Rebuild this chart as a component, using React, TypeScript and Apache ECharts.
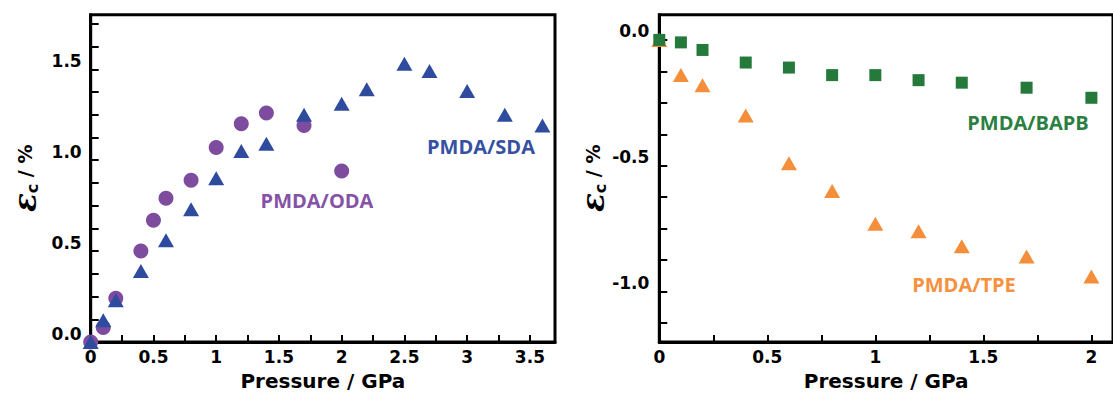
import React, { useEffect, useRef } from "react";
import * as echarts from "echarts";

// ---- Left panel data ----
const ODA_X = [0, 0.1, 0.2, 0.4, 0.5, 0.6, 0.8, 1.0, 1.2, 1.4, 1.7, 2.0];
const ODA_Y = [0.0, 0.08, 0.24, 0.5, 0.67, 0.79, 0.89, 1.07, 1.2, 1.26, 1.19, 0.94];
const SDA_X = [0, 0.1, 0.2, 0.4, 0.6, 0.8, 1.0, 1.2, 1.4, 1.7, 2.0, 2.2, 2.5, 2.7, 3.0, 3.3, 3.6];
const SDA_Y = [0.0, 0.12, 0.23, 0.39, 0.56, 0.73, 0.9, 1.05, 1.09, 1.25, 1.31, 1.39, 1.53, 1.49, 1.38, 1.25, 1.19];

// ---- Right panel data ----
const BAPB_X = [0, 0.1, 0.2, 0.4, 0.6, 0.8, 1.0, 1.2, 1.4, 1.7, 2.0];
const BAPB_Y = [0.0, -0.01, -0.04, -0.09, -0.11, -0.14, -0.14, -0.16, -0.17, -0.19, -0.23];
const TPE_X = [0, 0.1, 0.2, 0.4, 0.6, 0.8, 1.0, 1.2, 1.4, 1.7, 2.0];
const TPE_Y = [0.0, -0.14, -0.18, -0.3, -0.49, -0.6, -0.73, -0.76, -0.82, -0.86, -0.94];

// ---- Axis ticks / labels ----
const LEFT_X_LABELS = [0, 0.5, 1, 1.5, 2, 2.5, 3, 3.5];
const LEFT_X_TICKS = [0.25, 0.5, 0.75, 1, 1.25, 1.5, 1.75, 2, 2.25, 2.5, 2.75, 3, 3.25, 3.5];
const LEFT_Y_LABELS = [0, 0.5, 1.0, 1.5];
const LEFT_Y_TICKS = [0.125, 0.25, 0.375, 0.5, 0.625, 0.75, 0.875, 1.0, 1.125, 1.25, 1.375, 1.5, 1.625, 1.75];
const RIGHT_X_LABELS = [0, 0.5, 1, 1.5, 2];
const RIGHT_X_TICKS = [0.25, 0.5, 0.75, 1, 1.25, 1.5, 1.75, 2];
const RIGHT_Y_LABELS = [0, -0.5, -1.0];
const RIGHT_Y_TICKS = [0, -0.125, -0.25, -0.375, -0.5, -0.625, -0.75, -0.875, -1.0, -1.125];

const X_TITLE = "Pressure / GPa";
const SERIES_NAMES = ["PMDA/ODA", "PMDA/SDA", "PMDA/BAPB", "PMDA/TPE"];

const C_ODA = "#7E4C9F";
const C_SDA = "#2E4B9E";
const C_BAPB = "#257A3B";
const C_TPE = "#F48E3A";

const zip = (xs: number[], ys: number[]) => xs.map((x, i) => [x, ys[i]]);

const tickFont = {
  fontFamily: "DejaVu Sans",
  fontWeight: "bold" as const,
  fontSize: 17,
  color: "#000",
};

const yName = "{e|ε}{c|c}{t| / %}";
const yNameStyle = {
  color: "#000",
  rich: {
    e: { fontFamily: "DejaVu Serif", fontStyle: "italic", fontWeight: "bold", fontSize: 31, color: "#000" },
    c: { fontFamily: "DejaVu Sans", fontWeight: "bold", fontSize: 16, color: "#000", verticalAlign: "bottom", padding: [10, 0, 0, 0] },
    t: { fontFamily: "DejaVu Sans", fontWeight: "bold", fontSize: 19, color: "#000" },
  },
};

function xAxisCfg(gridIndex: number, max: number, labels: number[], ticks: number[], labelMargin: number) {
  return {
    type: "value",
    gridIndex,
    min: 0,
    max,
    name: X_TITLE,
    nameLocation: "middle",
    nameGap: 29,
    nameTextStyle: { fontFamily: "DejaVu Sans", fontWeight: "bold", fontSize: 20, color: "#000" },
    axisLine: { show: true, onZero: false, lineStyle: { color: "#000", width: 3 } },
    axisTick: { show: true, inside: true, length: 7, lineStyle: { color: "#000", width: 2 }, customValues: ticks },
    axisLabel: { ...tickFont, margin: labelMargin, customValues: labels, formatter: (v: number) => String(v) },
    splitLine: { show: false },
  };
}

function yAxisCfg(gridIndex: number, min: number, max: number, labels: number[], ticks: number[], labelMargin: number) {
  return {
    type: "value",
    gridIndex,
    min,
    max,
    name: yName,
    nameLocation: "middle",
    nameRotate: 90,
    nameGap: 50,
    nameTextStyle: yNameStyle,
    axisLine: { show: true, onZero: false, lineStyle: { color: "#000", width: 3 } },
    axisTick: { show: true, inside: true, length: 8, lineStyle: { color: "#000", width: 2 }, customValues: ticks },
    axisLabel: {
      ...tickFont,
      margin: labelMargin,
      verticalAlign: "bottom",
      lineHeight: 17,
      customValues: labels,
      formatter: (v: number) => v.toFixed(1),
    },
    splitLine: { show: false },
  };
}

function annot(text: string, x: number, y: number, color: string) {
  return {
    type: "text",
    x,
    y,
    z: 10,
    style: {
      text,
      fill: color,
      fontFamily: "Open Sans",
      fontWeight: "bold",
      fontSize: 20,
      align: "center",
      verticalAlign: "middle",
    },
  };
}

export default function App() {
  const ref = useRef<HTMLDivElement>(null);
  useEffect(() => {
    if (!ref.current) return;
    const chart = echarts.init(ref.current, undefined, { renderer: "svg" });
    const option: any = {
      animation: false,
      backgroundColor: "#fff",
      grid: [
        { left: 90.7, top: 14.7, width: 464.3, height: 332, show: true, borderColor: "#000", borderWidth: 3, backgroundColor: "transparent" },
        { left: 659.3, top: 14.7, width: 462, height: 332, show: true, borderColor: "#000", borderWidth: 3, backgroundColor: "transparent" },
      ],
      xAxis: [
        xAxisCfg(0, 3.7, LEFT_X_LABELS, LEFT_X_TICKS, 6),
        xAxisCfg(1, 2.1, RIGHT_X_LABELS, RIGHT_X_TICKS, 6),
      ],
      yAxis: [
        yAxisCfg(0, 0, 1.8, LEFT_Y_LABELS, LEFT_Y_TICKS, 9),
        yAxisCfg(1, -1.2, 0.1, RIGHT_Y_LABELS, RIGHT_Y_TICKS, 10),
      ],
      series: [
        {
          name: SERIES_NAMES[0],
          type: "scatter",
          xAxisIndex: 0,
          yAxisIndex: 0,
          clip: false,
          symbol: "circle",
          symbolSize: 15,
          itemStyle: { color: C_ODA, opacity: 1 },
          data: zip(ODA_X, ODA_Y),
        },
        {
          name: SERIES_NAMES[1],
          type: "scatter",
          xAxisIndex: 0,
          yAxisIndex: 0,
          clip: false,
          symbol: "triangle",
          symbolSize: [16, 14],
          itemStyle: { color: C_SDA, opacity: 1 },
          data: zip(SDA_X, SDA_Y),
        },
        {
          name: SERIES_NAMES[3],
          type: "scatter",
          xAxisIndex: 1,
          yAxisIndex: 1,
          clip: false,
          symbol: "triangle",
          symbolSize: [16, 14],
          itemStyle: { color: C_TPE, opacity: 1 },
          data: zip(TPE_X, TPE_Y),
        },
        {
          name: SERIES_NAMES[2],
          type: "scatter",
          xAxisIndex: 1,
          yAxisIndex: 1,
          clip: false,
          symbol: "rect",
          symbolSize: 12,
          itemStyle: { color: C_BAPB, opacity: 1 },
          data: zip(BAPB_X, BAPB_Y),
        },
      ],
      graphic: [
        annot(SERIES_NAMES[0], 317, 200, "#8552A6"),
        annot(SERIES_NAMES[1], 481, 146, "#3651A3"),
        annot(SERIES_NAMES[2], 1028, 122, "#2B7F41"),
        annot(SERIES_NAMES[3], 964, 284, "#F5913F"),
      ],
    };
    chart.setOption(option);
    return () => chart.dispose();
  }, []);
  return (
    <div
      ref={ref}
      style={{ position: "absolute", left: 0, top: 0, width: 1113, height: 396 }}
    />
  );
}
